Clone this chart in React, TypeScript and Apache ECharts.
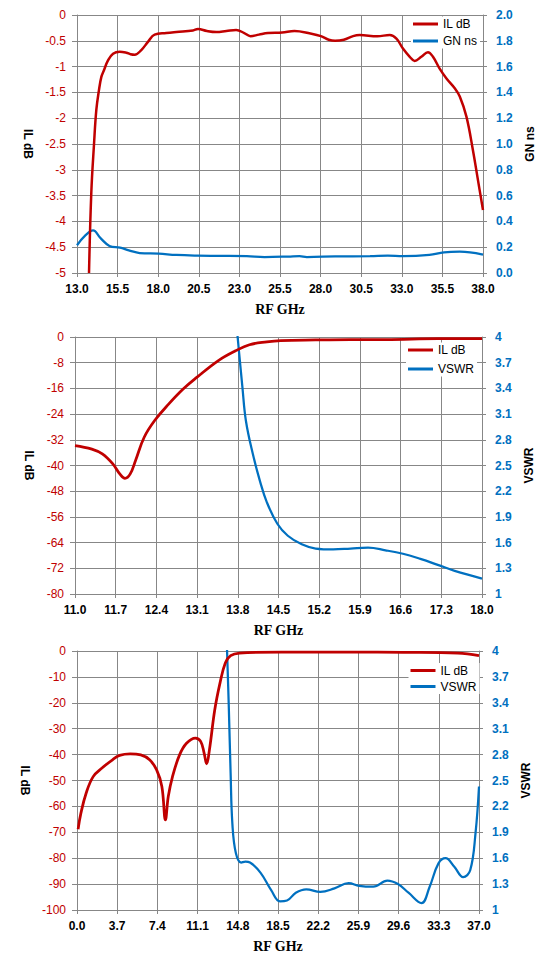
import React, { useEffect, useRef } from "react";
import * as echarts from "echarts";

const RED = "#C00000";
const BLUE = "#0070C0";
const GRID = "#878787";

// Chart 1: IL dB (left) and GN ns (right) vs RF GHz (13..38)
const il1: [number, number][] = [
  [13.74, -5.0], [13.88, -3.45], [14.05, -2.49], [14.19, -1.84], [14.35, -1.46],
  [14.5, -1.2], [14.66, -1.07], [14.91, -0.88], [15.22, -0.75], [15.63, -0.71],
  [16.04, -0.73], [16.3, -0.76], [16.55, -0.77], [16.96, -0.68], [17.37, -0.52],
  [17.78, -0.38], [18.5, -0.35], [19.12, -0.33], [20.14, -0.3], [20.45, -0.27],
  [21.0, -0.31], [21.58, -0.33], [22.2, -0.31], [22.8, -0.29], [23.3, -0.35],
  [23.68, -0.41], [24.2, -0.38], [24.76, -0.35], [25.63, -0.34], [26.39, -0.31],
  [27.37, -0.36], [28.02, -0.41], [28.5, -0.48], [28.89, -0.5], [29.43, -0.48],
  [30.0, -0.41], [30.41, -0.39], [31.49, -0.41], [32.26, -0.39], [32.67, -0.46],
  [33.07, -0.65], [33.49, -0.81], [33.79, -0.89], [34.2, -0.81], [34.61, -0.72],
  [34.92, -0.81], [35.33, -1.04], [35.75, -1.23], [36.26, -1.42], [36.57, -1.58],
  [36.98, -1.97], [37.38, -2.62], [37.69, -3.2], [38.0, -3.78],
];
const gn1: [number, number][] = [
  [13.0, 0.215], [13.5, 0.29], [13.99, 0.33], [14.45, 0.27], [15.0, 0.21],
  [15.65, 0.196], [16.19, 0.176], [16.86, 0.155], [18.03, 0.15], [19.12, 0.14],
  [20.42, 0.135], [21.8, 0.133], [23.46, 0.13], [24.55, 0.124], [26.0, 0.127],
  [26.7, 0.13], [27.15, 0.124], [28.9, 0.128], [31.05, 0.13], [32.14, 0.134],
  [33.07, 0.13], [34.7, 0.14], [35.6, 0.16], [36.57, 0.165], [37.2, 0.16],
  [38.0, 0.143],
];

// Chart 2: IL dB and VSWR vs RF GHz (11..18)
const il2: [number, number][] = [
  [11.0, -33.8], [11.29, -34.9], [11.47, -36.4], [11.65, -39.5], [11.77, -42.6],
  [11.86, -44.0], [11.95, -42.6], [12.04, -38.5], [12.19, -31.2], [12.37, -26.0],
  [12.61, -20.9], [12.86, -16.2], [13.1, -12.5], [13.46, -7.4], [13.76, -4.3],
  [14.0, -2.4], [14.3, -1.5], [14.54, -1.1], [15.14, -0.9], [15.74, -0.8],
  [16.34, -0.8], [17.24, -0.5], [18.0, -0.5],
];
const vswr2: [number, number][] = [
  [13.79, 4.05], [13.88, 3.41], [13.94, 3.02], [14.06, 2.63], [14.18, 2.32],
  [14.3, 2.07], [14.48, 1.82], [14.66, 1.68], [14.9, 1.58], [15.14, 1.53],
  [15.44, 1.52], [15.74, 1.53], [16.04, 1.54], [16.34, 1.51], [16.64, 1.47],
  [16.94, 1.41], [17.24, 1.34], [17.53, 1.27], [18.0, 1.18],
];

// Chart 3: IL dB and VSWR vs RF GHz (0..37)
const il3: [number, number][] = [
  [0.1, -68.8], [0.36, -62.6], [0.84, -54.9], [1.49, -48.5], [2.3, -45.2],
  [3.27, -42.0], [3.92, -40.3], [4.9, -39.7], [5.87, -40.1], [6.68, -42.0],
  [7.33, -45.9], [7.81, -52.3], [8.14, -65.2], [8.4, -56.2], [8.79, -48.5],
  [9.44, -40.1], [10.08, -35.6], [10.9, -33.6], [11.38, -34.9], [11.7, -39.4],
  [11.93, -43.6], [12.19, -38.1], [12.68, -22.7], [13.16, -12.4], [13.65, -4.6],
  [14.14, -1.8], [14.95, -0.8], [18.84, -0.4], [25.3, -0.4], [30.0, -0.5],
  [35.05, -0.8], [37.0, -1.8],
];
const vswr3: [number, number][] = [
  [13.8, 4.05], [13.97, 3.36], [14.14, 2.58], [14.3, 2.0], [14.62, 1.66],
  [15.11, 1.55], [15.5, 1.56], [15.92, 1.55], [16.9, 1.43], [17.87, 1.23],
  [18.68, 1.1], [19.33, 1.11], [20.14, 1.2], [21.1, 1.24], [22.4, 1.21],
  [23.7, 1.25], [25.0, 1.31], [25.97, 1.28], [27.27, 1.27], [28.57, 1.34],
  [29.54, 1.3], [30.51, 1.2], [31.71, 1.08], [32.46, 1.27], [33.27, 1.54],
  [33.92, 1.6], [34.73, 1.5], [35.54, 1.38], [36.19, 1.46], [36.68, 1.89],
  [37.0, 2.43],
];

// Axis ranges
const xRanges = [
  { min: 13, max: 38, step: 2.5 },
  { min: 11, max: 18, step: 0.7 },
  { min: 0, max: 37, step: 3.7 },
];
const leftRanges = [
  { min: -5, max: 0, step: 0.5 },
  { min: -80, max: 0, step: 8 },
  { min: -100, max: 0, step: 10 },
];
const rightRanges = [
  { min: 0, max: 2, step: 0.2, decimals: true },
  { min: 1, max: 4, step: 0.3, decimals: false },
  { min: 1, max: 4, step: 0.3, decimals: false },
];
const rightNames = ["GN ns", "VSWR", "VSWR"];

export default function App() {
  const ref = useRef<HTMLDivElement>(null);
  useEffect(() => {
    document.body.style.margin = "0";
    if (!ref.current) return;
    const chart = echarts.init(ref.current, undefined, { renderer: "svg" });

    const grids = [
      { left: 77, top: 15, width: 406, height: 258 },
      { left: 75, top: 337, width: 407, height: 257 },
      { left: 77, top: 651, width: 402, height: 259 },
    ];

    const font = "Liberation Sans";
    const xAxes = xRanges.map((r, i) => ({
      type: "value",
      gridIndex: i,
      min: 0,
      max: r.max - r.min,
      interval: r.step,
      axisLine: { show: true, onZero: false, lineStyle: { color: GRID, width: 1 } },
      axisTick: { show: true, length: 4, lineStyle: { color: GRID } },
      splitLine: { show: true, lineStyle: { color: GRID, width: 1 } },
      axisLabel: {
        color: "#000",
        fontFamily: font,
        fontSize: 12,
        fontWeight: "bold",
        margin: 10,
        formatter: (v: number) => (v + r.min).toFixed(1),
      },
      name: "RF GHz",
      nameLocation: "middle",
      nameGap: 29,
      nameTextStyle: {
        color: "#000",
        fontFamily: "Liberation Serif",
        fontWeight: "bold",
        fontSize: 14,
      },
    }));

    const yAxes: any[] = [];
    leftRanges.forEach((r, i) => {
      yAxes.push({
        type: "value",
        gridIndex: i,
        position: "left",
        min: r.min,
        max: r.max,
        interval: r.step,
        axisLine: { show: true, onZero: false, lineStyle: { color: GRID } },
        axisTick: { show: true, length: 5, lineStyle: { color: GRID } },
        splitLine: { show: true, lineStyle: { color: GRID, width: 1 } },
        axisLabel: {
          color: RED,
          fontFamily: font,
          fontSize: 12,
          margin: 11,
        },
        name: "IL dB",
        nameLocation: "middle",
        nameRotate: -90,
        nameGap: 40,
        nameTextStyle: { color: "#000", fontFamily: font, fontWeight: "bold", fontSize: 12 },
      });
    });
    rightRanges.forEach((r, i) => {
      yAxes.push({
        type: "value",
        gridIndex: i,
        position: "right",
        min: 0,
        max: r.max - r.min,
        interval: r.step,
        axisLine: { show: true, onZero: false, lineStyle: { color: GRID } },
        axisTick: { show: true, length: 4, lineStyle: { color: GRID } },
        splitLine: { show: false },
        axisLabel: {
          color: BLUE,
          fontFamily: font,
          fontSize: 12,
          fontWeight: "bold",
          margin: 13,
          formatter: (v: number) =>
            r.decimals ? (v + r.min).toFixed(1) : String(Number((v + r.min).toFixed(1))),
        },
        name: rightNames[i],
        nameLocation: "middle",
        nameRotate: 90,
        nameGap: 40,
        nameTextStyle: { color: "#000", fontFamily: font, fontWeight: "bold", fontSize: 12 },
      });
    });

    const mk = (
      name: string,
      data: [number, number][],
      gi: number,
      right: boolean,
      color: string,
      width: number
    ) => ({
      type: "line",
      name,
      xAxisIndex: gi,
      yAxisIndex: right ? gi + 3 : gi,
      data: data.map(([f, v]) => [
        f - xRanges[gi].min,
        right ? v - rightRanges[gi].min : v,
      ]),
      symbol: "none",
      smooth: 0.4,
      lineStyle: { color, width },
      itemStyle: { color },
      z: right ? 2 : 3,
    });

    const series = [
      mk("GN ns", gn1, 0, true, BLUE, 2.25),
      mk("IL dB", il1, 0, false, RED, 2.5),
      mk("IL dB", il2, 1, false, RED, 2.75),
      mk("VSWR", vswr2, 1, true, BLUE, 2.25),
      mk("IL dB", il3, 2, false, RED, 2.75),
      mk("VSWR", vswr3, 2, true, BLUE, 2.25),
    ];

    const legendBase = {
      orient: "vertical",
      backgroundColor: "#fff",
      padding: [1, 3, 1, 2],
      icon: "rect",
      itemWidth: 25,
      itemHeight: 3,
      textStyle: { color: "#000", fontFamily: font, fontSize: 12, lineHeight: 13 },
      selectedMode: false,
    };

    const option = {
      animation: false,
      grid: grids,
      xAxis: xAxes,
      yAxis: yAxes,
      legend: [
        { ...legendBase, left: 411, top: 16.5, itemGap: 4, data: ["IL dB", "GN ns"] },
        { ...legendBase, left: 406, top: 342.5, itemGap: 6, data: ["IL dB", "VSWR"] },
        { ...legendBase, left: 408.5, top: 663, itemGap: 3, data: ["IL dB", "VSWR"] },
      ],
      series,
    };
    chart.setOption(option as any);
    return () => chart.dispose();
  }, []);
  return <div ref={ref} style={{ width: 553, height: 970 }} />;
}
